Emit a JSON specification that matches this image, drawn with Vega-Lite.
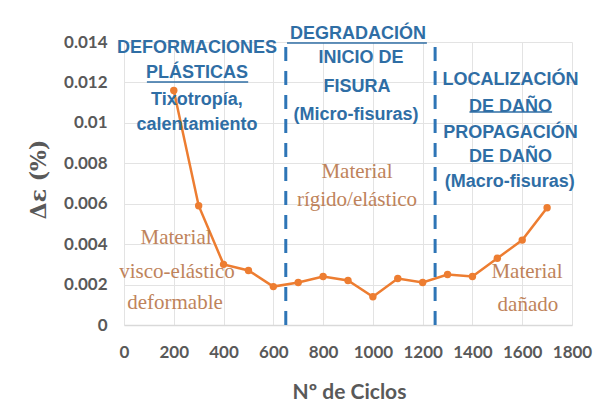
{
  "$schema": "https://vega.github.io/schema/vega-lite/v6.json",
  "autosize": "none",
  "width": 448,
  "height": 283,
  "padding": {"left": 124, "top": 42, "right": 27, "bottom": 94},
  "background": "white",
  "config": {"view": {"stroke": null}},
  "datasets": {
    "series": [
      {"ciclos": 200, "de": 0.0116},
      {"ciclos": 300, "de": 0.0059},
      {"ciclos": 400, "de": 0.0030},
      {"ciclos": 500, "de": 0.0027},
      {"ciclos": 600, "de": 0.0019},
      {"ciclos": 700, "de": 0.0021},
      {"ciclos": 800, "de": 0.0024},
      {"ciclos": 900, "de": 0.0022},
      {"ciclos": 1000, "de": 0.0014},
      {"ciclos": 1100, "de": 0.0023},
      {"ciclos": 1200, "de": 0.0021},
      {"ciclos": 1300, "de": 0.0025},
      {"ciclos": 1400, "de": 0.0024},
      {"ciclos": 1500, "de": 0.0033},
      {"ciclos": 1600, "de": 0.0042},
      {"ciclos": 1700, "de": 0.0058}
    ],
    "limits": [
      {"ciclos": 650, "y0": 0, "y1": 0.014},
      {"ciclos": 1250, "y0": 0, "y1": 0.014}
    ],
    "blueText": [
      {"x": 293, "y": 0.0137, "t": "DEFORMACIONES"},
      {"x": 293, "y": 0.01247, "t": "PLÁSTICAS"},
      {"x": 293, "y": 0.01113, "t": "Tixotropía,"},
      {"x": 293, "y": 0.00989, "t": "calentamiento"},
      {"x": 940, "y": 0.0144, "t": "DEGRADACIÓN"},
      {"x": 952, "y": 0.01321, "t": "INICIO DE"},
      {"x": 936, "y": 0.01177, "t": "FISURA"},
      {"x": 932, "y": 0.01039, "t": "(Micro-fisuras)"},
      {"x": 1553, "y": 0.01212, "t": "LOCALIZACIÓN"},
      {"x": 1553, "y": 0.01078, "t": "DE DAÑO"},
      {"x": 1553, "y": 0.0095, "t": "PROPAGACIÓN"},
      {"x": 1553, "y": 0.00831, "t": "DE DAÑO"},
      {"x": 1550, "y": 0.00707, "t": "(Macro-fisuras)"}
    ],
    "underlines": [
      {"x1": 92, "x2": 499, "y": 0.01202},
      {"x1": 655, "x2": 1217, "y": 0.01395},
      {"x1": 1388, "x2": 1720, "y": 0.01054}
    ],
    "orangeText": [
      {"x": 209, "y": 0.0043, "t": "Material"},
      {"x": 213, "y": 0.00262, "t": "visco-elástico"},
      {"x": 205, "y": 0.00109, "t": "deformable"},
      {"x": 936, "y": 0.00757, "t": "Material"},
      {"x": 936, "y": 0.00618, "t": "rígido/elástico"},
      {"x": 1619, "y": 0.00262, "t": "Material"},
      {"x": 1623, "y": 0.00099, "t": "dañado"}
    ]
  },
  "layer": [
    {
      "data": {"name": "series"},
      "mark": {"type": "line", "color": "#ed7d31", "strokeWidth": 2.5, "point": {"filled": true, "size": 55, "color": "#ed7d31"}},
      "encoding": {
        "x": {
          "field": "ciclos", "type": "quantitative",
          "scale": {"domain": [0, 1800], "nice": false},
          "axis": {
            "title": "Nº de Ciclos", "values": [0, 200, 400, 600, 800, 1000, 1200, 1400, 1600, 1800],
            "format": "d", "labelOverlap": false, "labelBound": false, "labelFlush": false,
            "grid": true, "gridColor": "#e3e3e3", "gridWidth": 1,
            "domainColor": "#d9d9d9", "domainWidth": 1.5, "ticks": false,
            "labelFont": "Lato", "labelFontWeight": "bold", "labelFontSize": 17, "labelColor": "#595959", "labelPadding": 19,
            "titleFont": "Lato", "titleFontWeight": "bold", "titleFontSize": 21, "titleColor": "#595959",
            "titleX": 225, "titleY": 67, "titleBaseline": "middle"
          }
        },
        "y": {
          "field": "de", "type": "quantitative",
          "scale": {"domain": [0, 0.014], "nice": false},
          "axis": {
            "title": "Δε (%)", "values": [0, 0.002, 0.004, 0.006, 0.008, 0.01, 0.012, 0.014],
            "labelExpr": "datum.value == 0 ? '0' : format(datum.value, '.3~f')",
            "labelOverlap": false, "labelBound": false, "labelFlush": false,
            "grid": true, "gridColor": "#e3e3e3", "gridWidth": 1,
            "domain": false, "ticks": false,
            "labelFont": "Lato", "labelFontWeight": "bold", "labelFontSize": 17, "labelColor": "#595959", "labelPadding": 17,
            "titleFont": "DejaVu Serif", "titleFontWeight": "bold", "titleFontSize": 22, "titleColor": "#595959",
            "titleX": -86, "titleY": 137, "titleBaseline": "middle", "titleAngle": -90
          }
        }
      }
    },
    {
      "data": {"name": "limits"},
      "mark": {"type": "rule", "color": "#2e75b6", "strokeWidth": 3, "strokeDash": [14, 10]},
      "encoding": {
        "x": {"field": "ciclos", "type": "quantitative"},
        "y": {"field": "y0", "type": "quantitative"},
        "y2": {"field": "y1"}
      }
    },
    {
      "data": {"name": "underlines"},
      "mark": {"type": "rule", "color": "#2f6ea5", "strokeWidth": 1.5},
      "encoding": {
        "x": {"field": "x1", "type": "quantitative"},
        "x2": {"field": "x2"},
        "y": {"field": "y", "type": "quantitative"}
      }
    },
    {
      "data": {"name": "blueText"},
      "mark": {"type": "text", "font": "Liberation Sans", "fontWeight": "bold", "fontSize": 18, "color": "#2f6ea5", "align": "center", "baseline": "middle"},
      "encoding": {
        "x": {"field": "x", "type": "quantitative"},
        "y": {"field": "y", "type": "quantitative"},
        "text": {"field": "t"}
      }
    },
    {
      "data": {"name": "orangeText"},
      "mark": {"type": "text", "font": "Liberation Serif", "fontSize": 21, "color": "#b9764a", "align": "center", "baseline": "middle", "opacity": 0.9},
      "encoding": {
        "x": {"field": "x", "type": "quantitative"},
        "y": {"field": "y", "type": "quantitative"},
        "text": {"field": "t"}
      }
    }
  ]
}
